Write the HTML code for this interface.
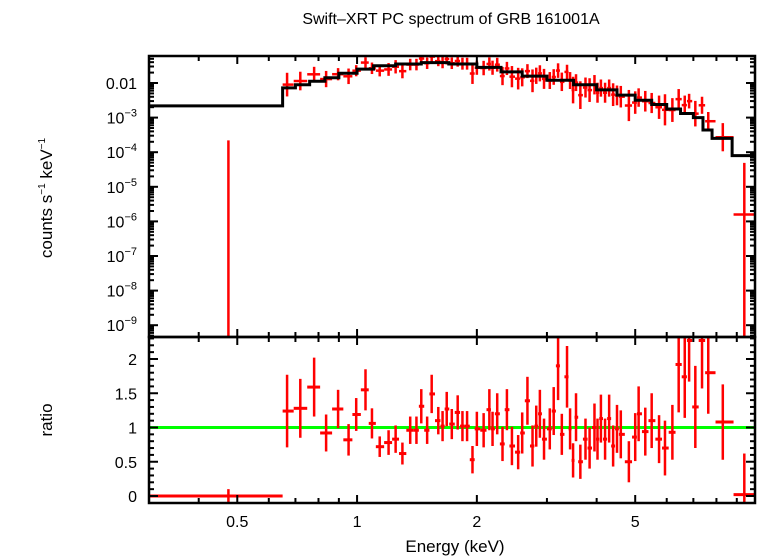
<!DOCTYPE html>
<html><head><meta charset="utf-8"><style>
html,body{margin:0;padding:0;background:#fff}
svg{display:block;font-family:"Liberation Sans",sans-serif}
</style></head><body>
<svg id="chart" width="758" height="556" viewBox="0 0 758 556" xmlns="http://www.w3.org/2000/svg">
<text x="451" y="24" font-size="16" text-anchor="middle">Swift–XRT PC spectrum of GRB 161001A</text>
<text transform="translate(52,198) rotate(-90)" font-size="17" text-anchor="middle">counts s<tspan font-size="10" dy="-7">−1</tspan><tspan dy="7"> keV</tspan><tspan font-size="10" dy="-7">−1</tspan></text>
<text transform="translate(52,420) rotate(-90)" font-size="17" text-anchor="middle">ratio</text>
<text x="455" y="552" font-size="17" text-anchor="middle">Energy (keV)</text>
<g id="g"></g>
</svg>
<script>
// ---- data ----
const modelEdges = [0.3,0.65,0.7,0.76,0.83,0.9,1.0,1.1,1.25,1.45,1.7,2.0,2.3,2.6,3.0,3.5,4.0,4.5,5.0,5.5,6.0,6.5,7.0,7.4,7.8,8.76,10];
const modelLog = [-2.66,-2.14,-2.05,-1.95,-1.85,-1.72,-1.6,-1.5,-1.45,-1.41,-1.45,-1.55,-1.68,-1.8,-1.92,-2.05,-2.2,-2.35,-2.5,-2.62,-2.75,-2.88,-3.0,-3.36,-3.6,-4.1];
const energies = [0.475,0.667,0.72,0.78,0.836,0.896,0.952,0.995,1.05,1.09,1.14,1.2,1.25,1.3,1.36,1.41,1.45,1.5,1.54,1.6,1.64,1.68,1.73,1.79,1.84,1.89,1.95,2.0,2.08,2.15,2.19,2.25,2.32,2.38,2.45,2.54,2.6,2.68,2.76,2.82,2.88,2.95,3.05,3.12,3.2,3.27,3.37,3.43,3.49,3.55,3.64,3.75,3.84,3.95,4.02,4.1,4.2,4.3,4.4,4.5,4.6,4.82,5.0,5.1,5.3,5.5,5.74,5.94,6.2,6.43,6.66,6.83,7.08,7.36,7.63,8.3,9.4];
const ratios = [0.0,1.24,1.28,1.59,0.92,1.27,0.82,1.19,1.55,1.06,0.72,0.78,0.83,0.62,0.96,0.96,1.31,0.96,1.49,1.1,1.02,1.27,1.05,1.22,1.02,1.02,0.53,0.98,0.96,1.26,0.98,1.2,0.76,1.26,0.73,0.64,0.92,1.39,0.73,1.02,1.2,0.83,0.98,1.24,1.9,0.9,1.74,0.98,0.52,1.15,0.5,0.83,0.7,1.0,0.83,1.13,0.83,1.13,0.73,0.98,0.9,0.5,0.86,1.2,0.94,1.1,0.83,0.7,0.93,1.92,1.74,2.27,1.3,2.27,1.8,1.08,0.02];
const ratioErr = [0.1,0.53,0.43,0.43,0.27,0.28,0.23,0.24,0.3,0.22,0.15,0.18,0.2,0.16,0.2,0.2,0.25,0.2,0.28,0.2,0.22,0.25,0.22,0.25,0.22,0.22,0.2,0.25,0.25,0.3,0.25,0.3,0.25,0.3,0.28,0.25,0.3,0.35,0.3,0.3,0.35,0.3,0.3,0.35,0.5,0.3,0.45,0.3,0.25,0.35,0.25,0.3,0.3,0.35,0.3,0.35,0.3,0.35,0.3,0.35,0.35,0.3,0.35,0.4,0.35,0.4,0.35,0.4,0.4,0.7,0.6,0.6,0.6,0.7,0.6,0.55,0.6];
const topTickLabels = ["0.01","10^-3","10^-4","10^-5","10^-6","10^-7","10^-8","10^-9"];
const topTickLogs = [-2,-3,-4,-5,-6,-7,-8,-9];
const ratioTicks = [0,0.5,1,1.5,2];
const ratioTickLabels = ["0","0.5","1","1.5","2"];
const xTicks = [0.5,1,2,5];
const xTickLabels = ["0.5","1","2","5"];

// ---- axes ----
const X0=149,X1=755,TOP=56,MID=337,BOT=503;
const xs = e => X0 + (Math.log10(e)-Math.log10(0.3))/(Math.log10(10)-Math.log10(0.3))*(X1-X0);
const yT = lg => 83 + (-2-lg)*34.6;
const yR = r => 496 - r*68.5;
const NS="http://www.w3.org/2000/svg", g=document.getElementById('g');
function mk(tag,attrs,parent){const el=document.createElementNS(NS,tag);for(const k in attrs)el.setAttribute(k,attrs[k]);(parent||g).appendChild(el);return el;}
function line(x1,y1,x2,y2,c,w,name,p){const l=mk('line',{x1,y1,x2,y2,stroke:c,'stroke-width':w},p);


return l;}
function clampT(y){return Math.max(TOP,Math.min(MID,y));}
function clampR(y){return Math.max(MID,Math.min(BOT,y));}
const modelAt = e => {for(let i=0;i<modelLog.length;i++){if(e>=modelEdges[i]&&e<modelEdges[i+1])return Math.pow(10,modelLog[i]);}return Math.pow(10,modelLog[modelLog.length-1]);};

const dataG = mk('g',{});


line(X0,yR(1),X1,yR(1),'#00ff00',3,'unity-line',dataG);
for(let i=0;i<energies.length;i++){
  const e=energies[i];
  const lo = i===0?0.3:Math.sqrt(energies[i-1]*e);
  const hi = i===energies.length-1?10:(i===0?0.65:Math.sqrt(energies[i+1]*e));
  const lo2 = i===1?0.65:lo;
  const m=modelAt(e), r=ratios[i], er=ratioErr[i];
  const c=m*r;
  const x=xs(e);
  const yc = c>0?yT(Math.log10(c)):MID;
  let yHi, yLo;
  if(r>er){
    const rel = Math.min(0.45, 0.8*er/r);
    yHi = yT(Math.log10(c)+rel); yLo = yT(Math.log10(c)-rel);
  } else {
    yHi = yT(Math.log10(m*(r+er))); yLo = MID;
  }
  line(x,clampT(yHi),x,clampT(yLo),'#ff0000',2.5,'count-errorbar',dataG);
  if(c>0) line(xs(lo2),clampT(yc),xs(hi),clampT(yc),'#ff0000',2.5,'count-bin',dataG);
  line(x,clampR(yR(r+er)),x,clampR(yR(r-er)),'#ff0000',2.5,'ratio-errorbar',dataG);
  line(xs(lo2),clampR(yR(r)),xs(hi),clampR(yR(r)),'#ff0000',3,'ratio-bin',dataG);
}
let d='';
for(let i=0;i<modelLog.length;i++){const y=yT(modelLog[i]);d+=(i===0?'M':'L')+xs(modelEdges[i])+','+y+'L'+xs(modelEdges[i+1])+','+y;}
const mp=mk('path',{d,fill:'none',stroke:'#000','stroke-width':3});



for(const [y1,y2,n] of [[TOP,MID,'top-panel-frame'],[MID,BOT,'bottom-panel-frame']]){
  const r=mk('rect',{x:X0,y:y1,width:X1-X0,height:y2-y1,fill:'none',stroke:'#000','stroke-width':2.5});
  
  
}
const minorE=[0.4,0.5,0.6,0.7,0.8,0.9,1,2,3,4,5,6,7,8,9];
for(const e of minorE){
  const major=xTicks.includes(e);const L=major?8:5;const x=xs(e);
  for(const [y,s] of [[TOP,1],[MID,-1],[MID,1],[BOT,-1]]) line(x,y,x,y+s*L,'#000',2,'x-tick');
}
xTicks.forEach((e,i)=>{const t=mk('text',{x:xs(e),y:527,'font-size':16,'text-anchor':'middle'});t.textContent=xTickLabels[i];

});
for(let dec=-10;dec<=-1;dec++){
  for(let k=1;k<10;k++){const lg=dec+Math.log10(k);const y=yT(lg);if(y<TOP||y>MID)continue;const L=k===1?9:5;
    line(X0,y,X0+L,y,'#000',2,'y-tick-top');line(X1,y,X1-L,y,'#000',2,'y-tick-top');}
}
topTickLogs.forEach((lg,i)=>{const lab=topTickLabels[i];const t=mk('text',{x:137,y:yT(lg)+6,'font-size':16,'text-anchor':'end'});


if(lab.startsWith('10^')){t.textContent='10';const s=mk('tspan',{'font-size':11,dy:-7},t);s.textContent=lab.slice(3).replace('-','−');}else t.textContent=lab;});
for(let v=0;v<=2.3001;v+=0.1){const y=yR(v);const maj=Math.abs(v*2-Math.round(v*2))<1e-6;const L=maj?9:5;
  line(X0,y,X0+L,y,'#000',2,'y-tick-ratio');line(X1,y,X1-L,y,'#000',2,'y-tick-ratio');}
ratioTicks.forEach((v,i)=>{const t=mk('text',{x:137,y:yR(v)+6,'font-size':16,'text-anchor':'end'});t.textContent=ratioTickLabels[i];

});
</script>
</body></html>
